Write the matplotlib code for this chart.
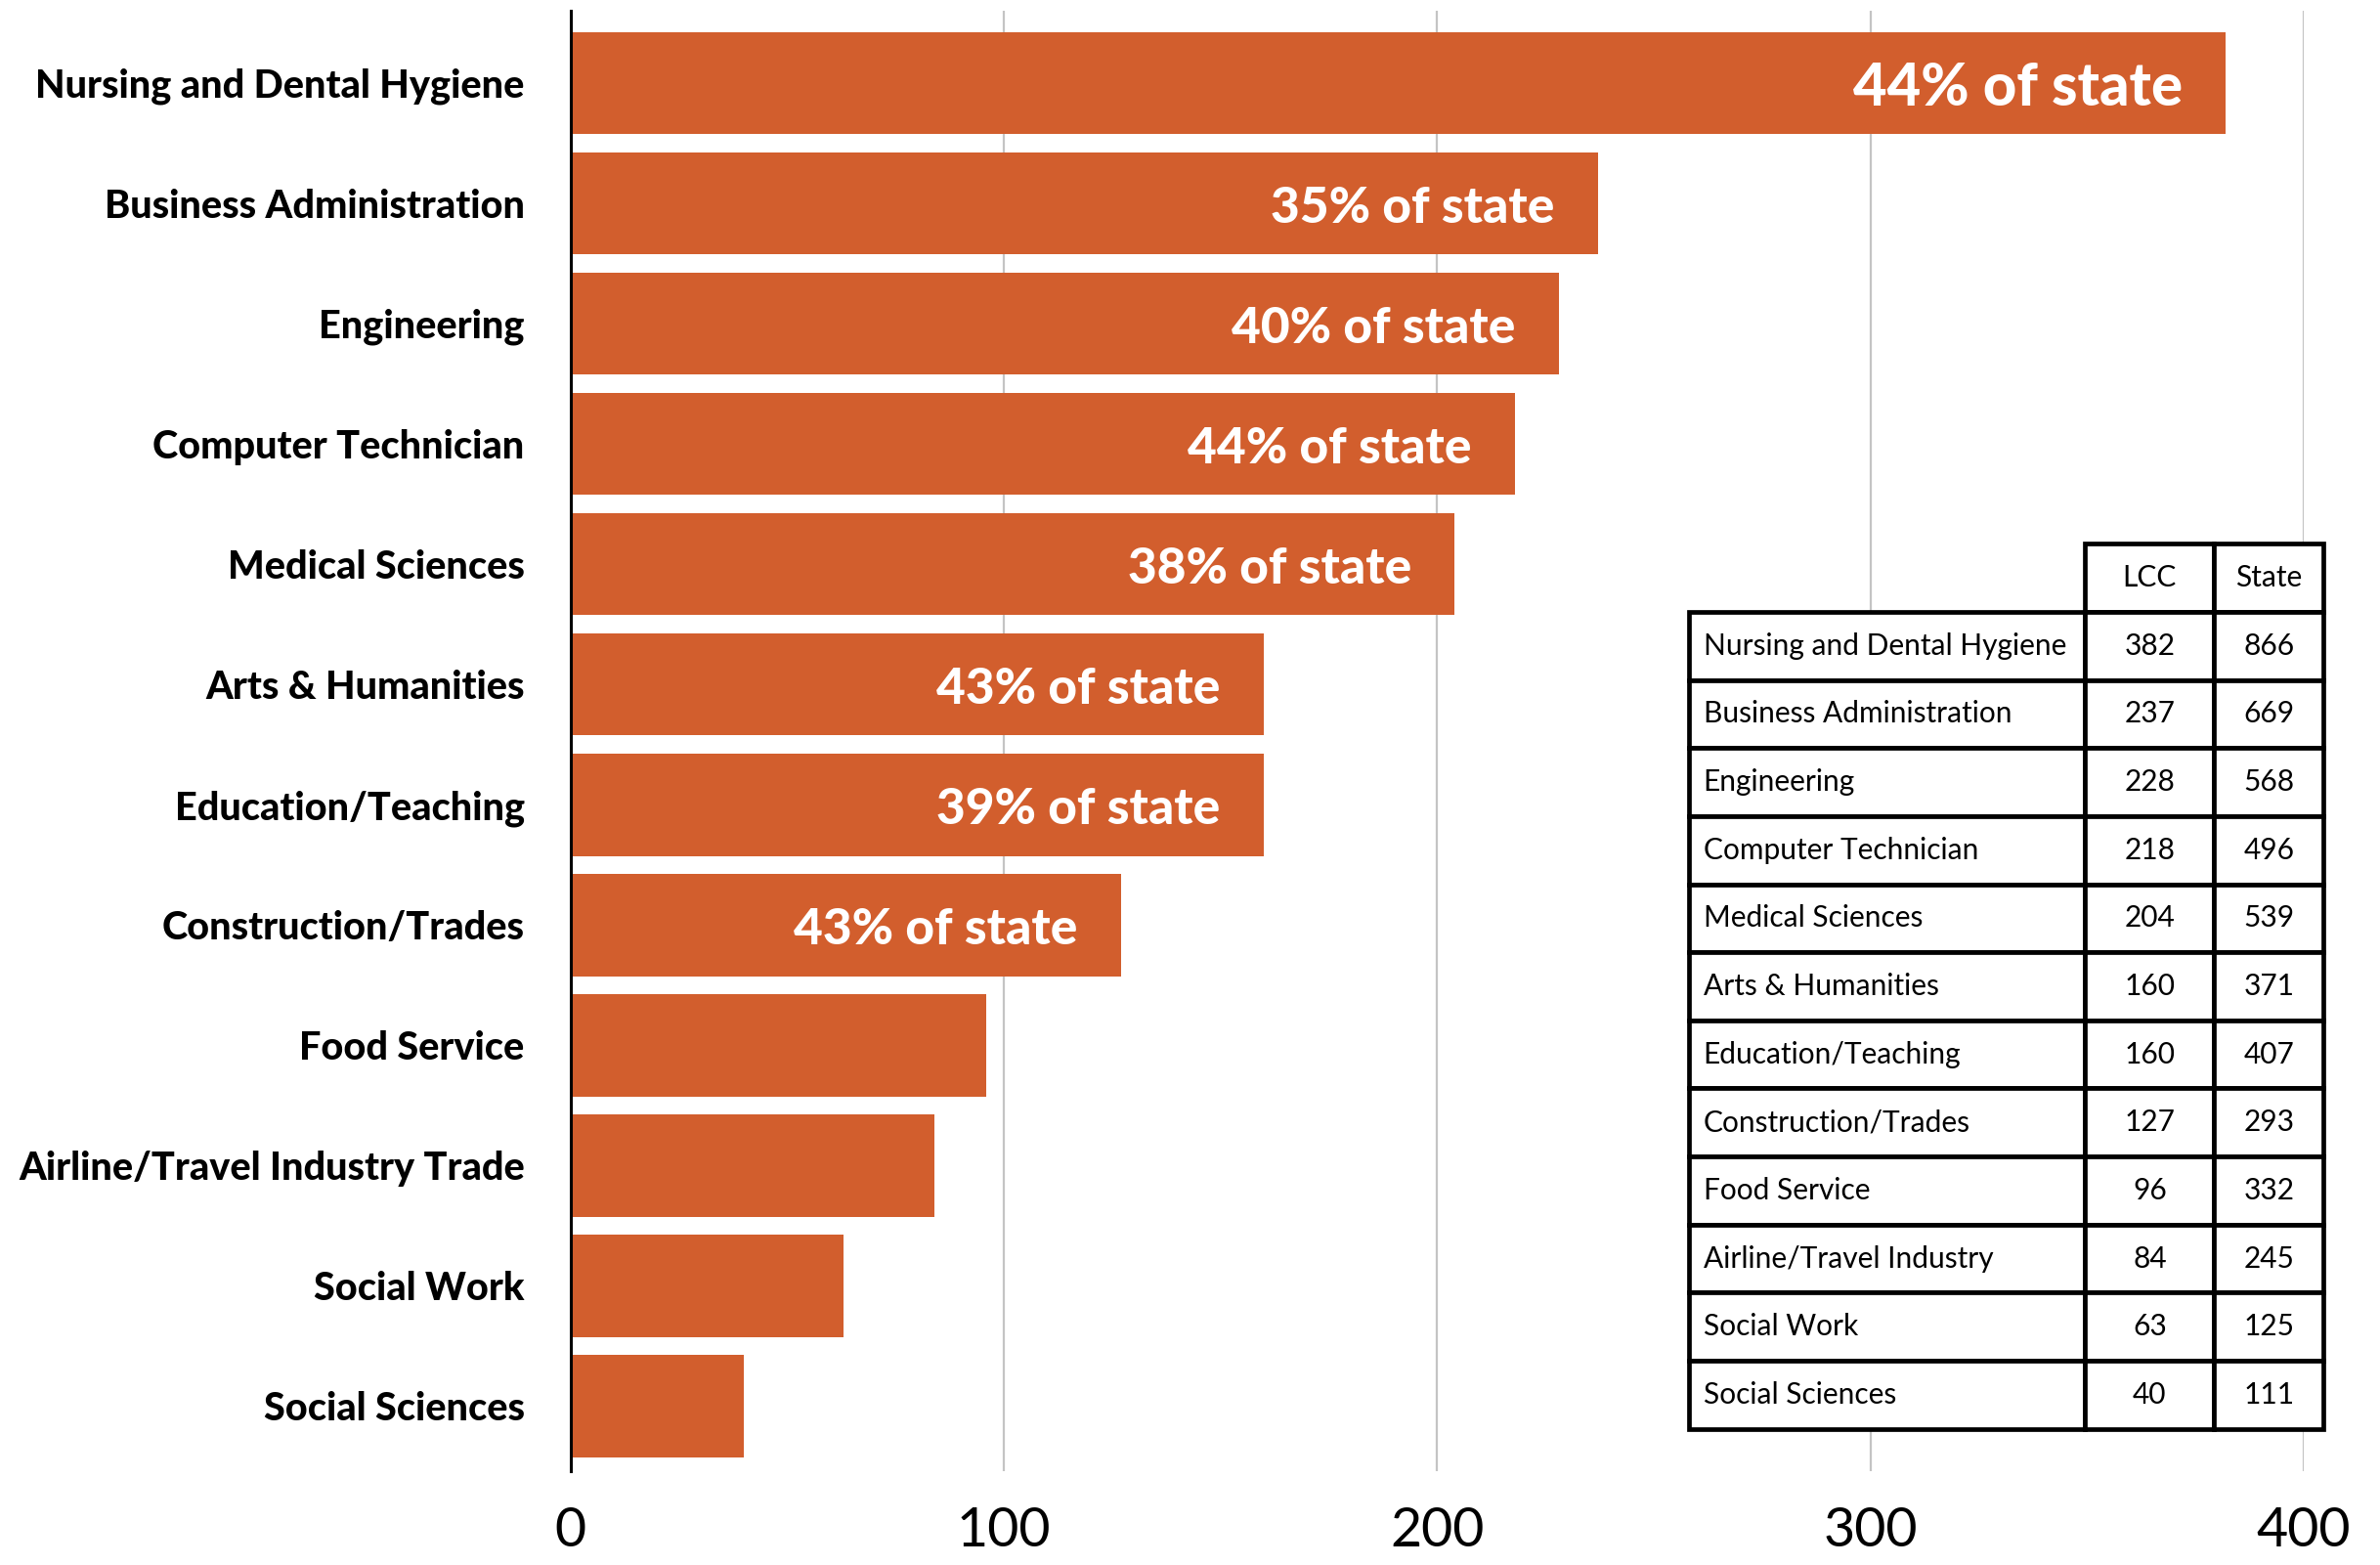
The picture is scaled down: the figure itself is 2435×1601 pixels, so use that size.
import numpy as np
import matplotlib
matplotlib.use("Agg")
import matplotlib.pyplot as plt

plt.rcParams['font.family'] = ['Lato', 'DejaVu Sans']

# program names as shown on the bars, and LCC / state counts
categories = ["Nursing and Dental Hygiene", "Business Administration", "Engineering",
              "Computer Technician", "Medical Sciences", "Arts & Humanities",
              "Education/Teaching", "Construction/Trades", "Food Service",
              "Airline/Travel Industry Trade", "Social Work", "Social Sciences"]
table_names = ["Nursing and Dental Hygiene", "Business Administration", "Engineering",
               "Computer Technician", "Medical Sciences", "Arts & Humanities",
               "Education/Teaching", "Construction/Trades", "Food Service",
               "Airline/Travel Industry", "Social Work", "Social Sciences"]
lcc = [382, 237, 228, 218, 204, 160, 160, 127, 96, 84, 63, 40]
state = [866, 669, 568, 496, 539, 371, 407, 293, 332, 245, 125, 111]
n_labeled = 8
xticks = [0, 100, 200, 300, 400]

bar_color = '#D25E2D'

fig = plt.figure(figsize=(24.35, 16.01), dpi=100)
ax = fig.add_axes([0.2398, 0.0600, 0.7282, 0.9331])

y = np.arange(len(categories))
ax.barh(y, lcc, height=0.85, color=bar_color, zorder=2)

# share of the state total, written inside the larger bars
for i in range(n_labeled):
    pct = round(100 * lcc[i] / state[i])
    size = 43 if i == 0 else 37
    ax.annotate(f"{pct}% of state", xy=(lcc[i], y[i]), xytext=(-32, -4),
                textcoords='offset points', ha='right', va='center',
                color='white', fontsize=size, fontweight='black', zorder=3)

ax.set_xlim(0, 400)
ax.set_ylim(len(categories) - 0.46, -0.6)
ax.set_xticks(xticks)
ax.set_xticklabels([str(t) for t in xticks], fontsize=40)
ax.set_yticks(y)
ax.set_yticklabels(categories, fontsize=28.5, fontweight='black')
ax.tick_params(axis='both', length=0)
ax.tick_params(axis='x', pad=26)
ax.tick_params(axis='y', pad=34)

ax.grid(axis='x', color='#c4c4c4', linewidth=1.6, zorder=0)
ax.set_axisbelow(True)
for side in ['top', 'right', 'bottom']:
    ax.spines[side].set_visible(False)
ax.spines['left'].set_linewidth(2.2)
ax.spines['left'].set_zorder(4)

# counts table in the lower right
cells = [["", "LCC", "State"]] + [[n, str(a), str(b)] for n, a, b in zip(table_names, lcc, state)]
tbl = ax.table(cellText=cells, colWidths=[0.624, 0.203, 0.173],
               bbox=[0.6455, 0.029, 0.366, 0.606], zorder=5)
tbl.auto_set_font_size(False)
tbl.set_fontsize(21.5)
for (r, c), cell in tbl.get_celld().items():
    cell.set_linewidth(3.4)
    cell.set_edgecolor('black')
    cell.set_facecolor('white')
    if c == 0:
        cell.PAD = 0.035
        cell.get_text().set_ha('left')
        cell._loc = 'left'
    else:
        cell._loc = 'center'
        cell.get_text().set_ha('center')
    if r == 0 and c == 0:
        cell.visible_edges = ''

fig.savefig('out.png', dpi=100)
